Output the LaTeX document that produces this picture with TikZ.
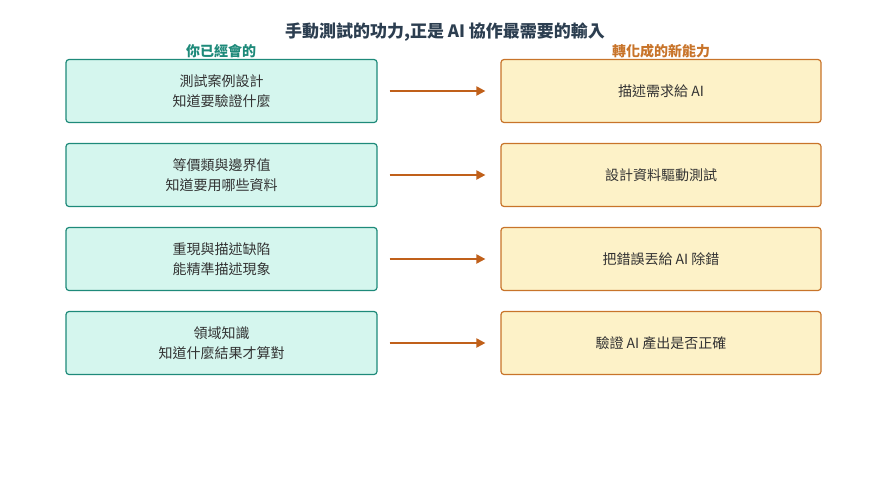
\documentclass[tikz,border=0pt]{standalone}
\usepackage{fontspec}
\setmainfont{Noto Sans CJK TC}
\usetikzlibrary{arrows.meta}
\definecolor{lfill}{HTML}{D5F6EE}
\definecolor{lline}{HTML}{1E8A7A}
\definecolor{rfill}{HTML}{FDF2C8}
\definecolor{rline}{HTML}{C8742A}
\definecolor{arr}{HTML}{C0601A}
\definecolor{ttl}{HTML}{2C3E50}
\begin{document}
\begin{tikzpicture}[x=1pt,y=-1pt,
 lbox/.style={draw=lline,fill=lfill,line width=1.2pt,rounded corners=3pt,minimum width=311pt,minimum height=63pt,align=center,font=\fontsize{14}{20}\selectfont,text=black!80},
 rbox/.style={draw=rline,fill=rfill,line width=1.2pt,rounded corners=3pt,minimum width=320pt,minimum height=63pt,align=center,font=\fontsize{14}{20}\selectfont,text=black!80},
 ar/.style={draw=arr,line width=2pt,-{Triangle[length=9pt,width=9pt]}}]
\useasboundingbox (0,0) rectangle (889,477);
\node[font=\bfseries\fontsize{17}{20}\selectfont,text=ttl] (t) at (445,32) {手動測試的功力,正是 AI 協作最需要的輸入};
\node[font=\bfseries\fontsize{14}{16}\selectfont,text=lline] (hl) at (221,51) {你已經會的};
\node[font=\bfseries\fontsize{14}{16}\selectfont,text=rline] (hr) at (661,51) {轉化成的新能力};
\foreach \i/\y/\a/\b in {1/91/{測試案例設計\\知道要驗證什麼}/{描述需求給 AI},2/175/{等價類與邊界值\\知道要用哪些資料}/{設計資料驅動測試},3/259/{重現與描述缺陷\\能精準描述現象}/{把錯誤丟給 AI 除錯},4/343/{領域知識\\知道什麼結果才算對}/{驗證 AI 產出是否正確}}{
 \node[lbox] (l\i) at (221.5,\y) {\a};
 \node[rbox] (r\i) at (661,\y) {\b};
 \draw[ar] ([xshift=12pt]l\i.east) -- ([xshift=-15pt]r\i.west);
}
\end{tikzpicture}
\end{document}
